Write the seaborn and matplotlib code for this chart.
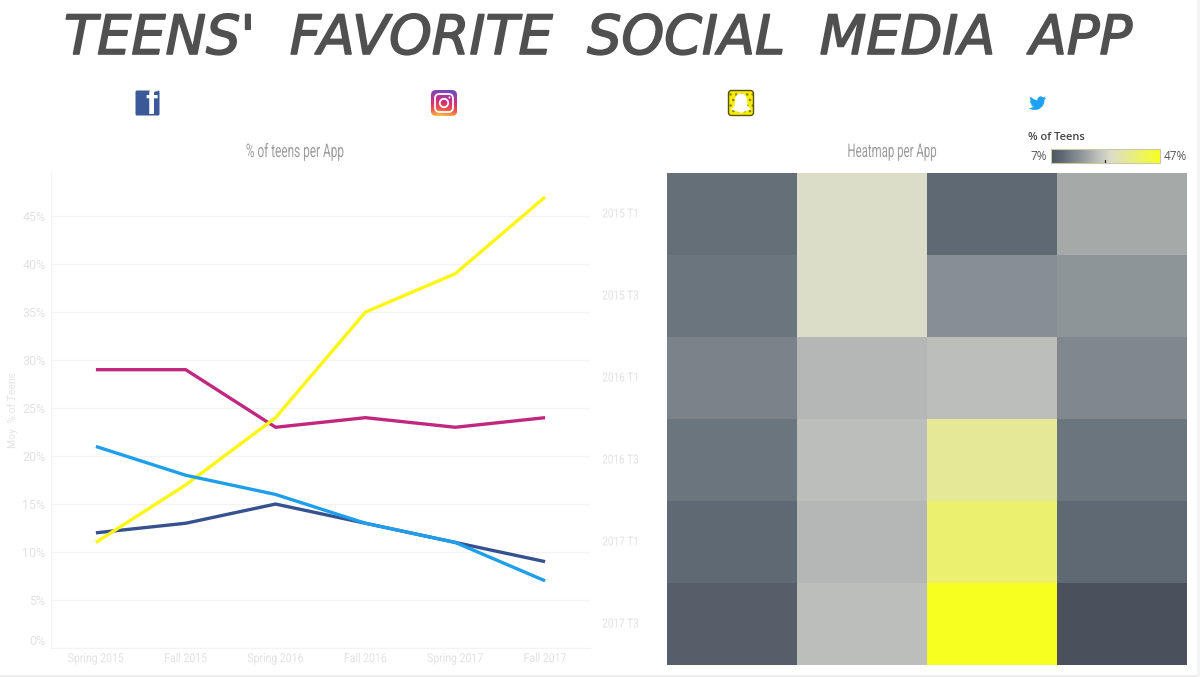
import numpy as np
import pandas as pd
import matplotlib
matplotlib.use("Agg")
import matplotlib.pyplot as plt
import seaborn as sns
from matplotlib.colors import LinearSegmentedColormap, Normalize
from matplotlib.patches import Rectangle, FancyBboxPatch, Circle, Polygon, Ellipse
from matplotlib.cm import ScalarMappable
from matplotlib.patheffects import AbstractPathEffect, withStroke
from matplotlib.transforms import Affine2D

# ---- data ----
seasons = ["Spring 2015", "Fall 2015", "Spring 2016", "Fall 2016", "Spring 2017", "Fall 2017"]
terms = ["2015 T1", "2015 T3", "2016 T1", "2016 T3", "2017 T1", "2017 T3"]
apps = ["Facebook", "Instagram", "Snapchat", "Twitter"]
facebook = [12, 13, 15, 13, 11, 9]
instagram = [29, 29, 23, 24, 23, 24]
snapchat = [11, 17, 24, 35, 39, 47]
twitter = [21, 18, 16, 13, 11, 7]
line_colors = ["#36518f", "#c2277f", "#fbf714", "#1f9eea"]
y_ticks = [0, 5, 10, 15, 20, 25, 30, 35, 40, 45]

# colour scale of the heatmap, value -> colour as seen in the cells
scale_values = [7, 9, 11, 13, 15, 17, 21, 24, 29, 35, 39, 47]
scale_colors = ["#4b515c", "#565f6a", "#5f6973", "#6a757d", "#7a8389", "#878e94",
                "#a5a9a8", "#bcbebc", "#dcddc8", "#e5e896", "#ebf16f", "#f6ff20"]

W, H = 1200, 677
sns.set_theme(style="white")
plt.rcParams["font.family"] = ["Roboto", "DejaVu Sans"]


class Narrow(AbstractPathEffect):
    """Squeeze a text horizontally around a pixel column (condensed look)."""

    def __init__(self, sx, cx):
        super().__init__()
        self.sx, self.cx = sx, cx

    def draw_path(self, renderer, gc, tpath, affine, rgbFace=None):
        t = affine + Affine2D().translate(-self.cx, 0).scale(self.sx, 1).translate(self.cx, 0)
        renderer.draw_path(gc, tpath, t, rgbFace)


cmap = LinearSegmentedColormap.from_list(
    "teens", [((v - 7) / 40, c) for v, c in zip(scale_values, scale_colors)])

df = pd.DataFrame({"season": seasons * 4,
                   "share": facebook + instagram + snapchat + twitter,
                   "app": np.repeat(apps, 6)})
matrix = pd.DataFrame(np.column_stack([facebook, instagram, snapchat, twitter]),
                      index=terms, columns=apps)

fig = plt.figure(figsize=(12, 6.77), dpi=100, facecolor="white")


def box(x0, y0, x1, y1):
    return [x0 / W, 1 - y1 / H, (x1 - x0) / W, (y1 - y0) / H]


# ---- line chart ----
ax = fig.add_axes(box(51, 172, 590, 648))
sns.lineplot(data=df, x="season", y="share", hue="app", hue_order=apps,
             palette=line_colors, linewidth=2.4, legend=False, sort=False,
             errorbar=None, ax=ax)
for ln in ax.get_lines():
    ln.set_solid_capstyle("butt")
ax.set_xlim(-0.5, 5.5)
ax.set_ylim(0, 49.6)
ax.set_yticks(y_ticks)
ax.set_yticklabels([f"{v}%" for v in y_ticks])
ax.yaxis.grid(True, color="#f3f3f3", linewidth=0.9)
ax.set_axisbelow(True)
ax.set_xlabel("")
ax.set_ylabel("Moy. % of Teens", color="#e4e4e4", fontsize=7.5)
ax.yaxis.label.set_va("center")
ax.yaxis.set_label_coords(-0.0705, 0.5)
ax.tick_params(axis="y", length=0, labelsize=9, labelcolor="#e2e2e2", pad=4)
ax.tick_params(axis="x", length=0, labelsize=9, labelcolor="#e2e2e2", pad=3)
ax.get_yticklabels()[0].set_verticalalignment("bottom")
for s in ["top", "right"]:
    ax.spines[s].set_visible(False)
for s in ["left", "bottom"]:
    ax.spines[s].set_color("#f3f3f3")
    ax.spines[s].set_linewidth(0.8)

# ---- heatmap ----
ax2 = fig.add_axes(box(667, 173, 1187, 665))
sns.heatmap(matrix, cmap=cmap, vmin=7, vmax=47, cbar=False, xticklabels=False,
            yticklabels=True, ax=ax2)
ax2.tick_params(axis="y", length=0, labelsize=9, labelcolor="#e2e2e2", pad=17, rotation=0)
ax2.set_ylabel("")

# ---- legend gradient ----
cax = fig.add_axes(box(1051, 149, 1160, 163))
cb = fig.colorbar(ScalarMappable(Normalize(7, 47), cmap), cax=cax, orientation="horizontal")
cb.set_ticks([])
cb.outline.set_edgecolor("#c9c9a8")
cb.outline.set_linewidth(0.8)
cax.plot([26.8, 26.8], [0, 0.18], color="#222222", lw=0.9, transform=cax.get_xaxis_transform())

# condensed tick labels, each squeezed about its own centre
fig.canvas.draw()
for lab, sx in [(l, 0.84) for l in ax.get_xticklabels()] + [(l, 0.80) for l in ax2.get_yticklabels()]:
    e = lab.get_window_extent()
    lab.set_path_effects([Narrow(sx, (e.x0 + e.x1) / 2)])

# ---- overlay in pixel coordinates: title, captions, icons ----
ov = fig.add_axes([0, 0, 1, 1], zorder=5)
ov.set_xlim(0, W)
ov.set_ylim(H, 0)
ov.axis("off")
ov.patch.set_alpha(0)

ov.text(598, 39, "TEENS'  FAVORITE  SOCIAL  MEDIA  APP", ha="center", va="center",
        fontsize=39, color="#505050", family=["DejaVu Sans"], style="oblique",
        path_effects=[withStroke(linewidth=1.2, foreground="#505050")])
ov.text(295, 152, "% of teens per App", ha="center", va="center", fontsize=13.5, color="#9c9c9c",
        path_effects=[Narrow(0.63, 295)])
ov.text(892, 152, "Heatmap per App", ha="center", va="center", fontsize=13.5, color="#9c9c9c",
        path_effects=[Narrow(0.61, 892)])
ov.text(1028, 137, "% of Teens", ha="left", va="center", fontsize=8, color="#444444",
        family=["Open Sans"], weight="semibold")
ov.text(1047, 156, "7%", ha="right", va="center", fontsize=8.5, color="#555555", family=["Open Sans"])
ov.text(1164, 156, "47%", ha="left", va="center", fontsize=8.5, color="#555555", family=["Open Sans"])

# faint page edges
ov.add_patch(Rectangle((0, 675), W, 2, color="#eeeeee", lw=0))
ov.add_patch(Rectangle((1197, 0), 3, H, color="#f4f4f4", lw=0))

# Facebook icon
ov.add_patch(FancyBboxPatch((135.5, 90.5), 24, 25, boxstyle="round,pad=0,rounding_size=1.5",
                            color="#3b5998", lw=0))
ov.text(151, 105, "f", ha="center", va="center", fontsize=25, color="white",
        family=["Liberation Sans"], weight="bold", clip_on=True)

# Instagram icon
ig_cmap = LinearSegmentedColormap.from_list(
    "ig", ["#5b51c8", "#a53a9e", "#d62f76", "#ee5a45", "#fcc04f"])
yy, xx = np.mgrid[0:1:64j, 0:1:64j]
im = ov.imshow(yy * 0.85 + (0.5 - np.abs(xx - 0.3)) * 0.15, cmap=ig_cmap,
               extent=(431, 457, 116, 90), aspect="auto", origin="upper", zorder=2)
clip = FancyBboxPatch((431, 90), 26, 26, boxstyle="round,pad=0,rounding_size=5",
                      fc="none", ec="none", transform=ov.transData)
ov.add_patch(clip)
im.set_clip_path(clip)
ov.set_xlim(0, W)
ov.set_ylim(H, 0)
ov.add_patch(FancyBboxPatch((435, 94), 18, 18, boxstyle="round,pad=0,rounding_size=4.5",
                            fc="none", ec="white", lw=1.3, zorder=3))
ov.add_patch(Circle((444, 103), 4.2, fc="none", ec="white", lw=1.3, zorder=3))
ov.add_patch(Circle((449.5, 97.5), 1, fc="white", ec="none", zorder=3))

# Snapchat icon
ov.add_patch(FancyBboxPatch((728.5, 90.5), 25, 25, boxstyle="round,pad=0,rounding_size=3",
                            fc="#f5ec00", ec="#8f8600", lw=0, hatch="...", zorder=2))
ov.add_patch(FancyBboxPatch((728.5, 90.5), 25, 25, boxstyle="round,pad=0,rounding_size=3",
                            fc="none", ec="#5a5200", lw=1.0, zorder=2))
ov.add_patch(Ellipse((741, 100), 12, 13, fc="white", ec="none", zorder=3))
ov.add_patch(Polygon([(735, 100), (747, 100), (747.5, 106), (751, 109.5), (746, 111), (741, 113),
                      (736, 111), (731, 109.5), (734.5, 106)], fc="white", ec="none", zorder=3))

# Twitter icon
bird = [(23.95, 4.57), (21.13, 5.35), (23.29, 2.62), (20.16, 3.8), (16.6, 2.2), (14, 3.1), (12.3, 5.3),
        (11.8, 8.1), (7, 6.9), (1.64, 3.16), (1, 5.6), (1.6, 7.8), (3.16, 9.73), (0.93, 9.12), (1.9, 12),
        (4.88, 14), (2.67, 14.09), (4.4, 16.4), (7.27, 17.5), (1.17, 19.6), (0, 19.54), (3.5, 21.2),
        (7.56, 21.75), (14, 20.5), (18.5, 16.8), (21, 12.5), (21.56, 7.77), (21.55, 7.14)]
ov.add_patch(Polygon([(1029.5 + 0.68 * x, 95 + 0.68 * y) for x, y in bird],
                     fc="#1da1f2", ec="#1da1f2", lw=0.3, zorder=3))

fig.savefig("out.png", dpi=100, facecolor="white")
